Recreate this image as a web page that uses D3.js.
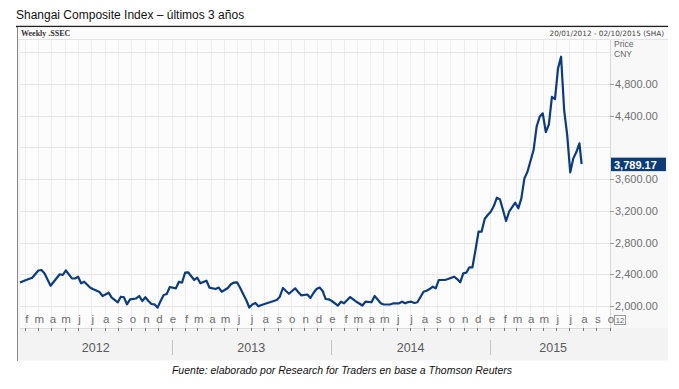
<!DOCTYPE html>
<html>
<head>
<meta charset="utf-8">
<script src="https://cdn.jsdelivr.net/npm/d3@7"></script>
<style>
  body { margin: 0; background: #fff; }
  svg { display: block; font-family: "Liberation Sans", Arial, sans-serif; }
</style>
</head>
<body>
<svg id="chart" width="679" height="389"></svg>
<script>
// cierres semanales (SSEC)
var fechas = [
  "2012-01-20","2012-02-03","2012-02-17","2012-03-02","2012-03-09","2012-03-16","2012-03-30",
  "2012-04-20","2012-04-27","2012-05-04","2012-05-18","2012-05-25","2012-06-01","2012-06-08",
  "2012-06-15","2012-06-29","2012-07-06","2012-07-20","2012-07-27","2012-08-10","2012-08-17",
  "2012-08-31","2012-09-07","2012-09-14","2012-09-21","2012-09-28","2012-10-12","2012-10-19",
  "2012-10-26","2012-11-02","2012-11-09","2012-11-16","2012-11-23","2012-11-30","2012-12-07",
  "2012-12-14","2012-12-21","2012-12-28","2013-01-11","2013-01-18","2013-01-25","2013-02-01",
  "2013-02-08","2013-02-22","2013-03-01","2013-03-08","2013-03-22","2013-03-29","2013-04-12",
  "2013-04-19","2013-04-26","2013-05-10","2013-05-17","2013-05-24","2013-05-31","2013-06-07",
  "2013-06-14","2013-06-21","2013-06-28","2013-07-05","2013-07-12","2013-07-19","2013-07-26",
  "2013-08-09","2013-08-16","2013-08-23","2013-08-30","2013-09-06","2013-09-13","2013-09-20",
  "2013-09-27","2013-10-04","2013-10-11","2013-10-18","2013-10-25","2013-11-08","2013-11-15",
  "2013-11-22","2013-11-29","2013-12-06","2013-12-13","2013-12-20","2013-12-27","2014-01-03",
  "2014-01-17","2014-01-24","2014-01-31","2014-02-14","2014-02-28","2014-03-07","2014-03-14",
  "2014-03-21","2014-04-04","2014-04-11","2014-04-18","2014-04-25","2014-05-02","2014-05-16",
  "2014-05-23","2014-06-06","2014-06-13","2014-06-20","2014-06-27","2014-07-04","2014-07-11",
  "2014-07-18","2014-07-25","2014-08-01","2014-08-08","2014-08-15","2014-08-22","2014-08-29",
  "2014-09-05","2014-09-12","2014-09-19","2014-09-26","2014-10-10","2014-10-17","2014-10-24",
  "2014-10-31","2014-11-07","2014-11-14","2014-11-21","2014-11-28","2014-12-05","2014-12-12",
  "2014-12-19","2014-12-26","2015-01-02","2015-01-09","2015-01-16","2015-01-23","2015-01-30",
  "2015-02-06","2015-02-13","2015-02-27","2015-03-06","2015-03-13","2015-03-20","2015-03-27",
  "2015-04-10","2015-04-17","2015-04-24","2015-05-01","2015-05-08","2015-05-15","2015-05-22",
  "2015-05-29","2015-06-05","2015-06-12","2015-06-19","2015-06-26","2015-07-03","2015-07-10",
  "2015-07-17","2015-07-24","2015-07-29"
];
var cierres = [
  2296,2328,2357,2448,2454,2412,2256,
  2400,2391,2448,2349,2347,2369,2286,
  2306,2231,2211,2177,2126,2168,2105,
  2047,2117,2110,2021,2084,2095,2126,
  2063,2110,2063,2025,2021,1979,2063,
  2139,2151,2240,2223,2306,2294,2420,
  2425,2328,2357,2286,2319,2231,2214,
  2233,2180,2227,2274,2296,2299,2230,
  2151,2076,1981,2019,2038,1996,2013,
  2038,2050,2063,2076,2117,2227,2189,
  2155,2189,2223,2177,2135,2145,2101,
  2164,2214,2233,2189,2088,2084,2063,
  2006,2054,2034,2113,2054,2032,2006,
  2054,2047,2126,2082,2034,2019,2019,
  2032,2034,2054,2034,2050,2054,2038,
  2047,2113,2180,2193,2214,2243,2223,
  2328,2328,2328,2340,2369,2340,2299,
  2412,2420,2488,2488,2706,2937,2937,
  3097,3148,3189,3260,3366,3345,3210,
  3072,3189,3303,3232,3358,3610,3694,
  3967,4263,4387,4430,4194,4289,4639,
  4610,4997,5144,4472,4156,3686,3862,
  3942,4052,3789.17
];
var rango = ["2012-01-20", "2015-10-02"];
var etiquetasPrecio = [2000, 2400, 2800, 3200, 3600, 4400, 4800];
var lineasPrecio = [2000, 2400, 2800, 3200, 3600, 4000, 4400, 4800, 5200];
var meses = ["e","f","m","a","m","j","j","a","s","o","n","d"];

var parse = d3.timeParse("%Y-%m-%d");
var fmt = d3.format(",.2f");
var data = fechas.map(function(f, i){ return {fecha: parse(f), cierre: cierres[i]}; });
var ultimo = data[data.length - 1];

var svg = d3.select("#chart");
var plot = {left: 20, right: 610, top: 40, bottom: 328};

var x = d3.scaleTime().domain([parse(rango[0]), parse(rango[1])]).range([plot.left, plot.right]);
var y = d3.scaleLinear().domain([2000, 4800]).range([306, 84]);

// titulo
svg.append("text").attr("x", 16).attr("y", 19)
  .attr("font-size", 12).attr("fill", "#111")
  .text("Shangai Composite Index \u2013 \u00faltimos 3 a\u00f1os");
svg.append("line").attr("x1", 16).attr("x2", 668).attr("y1", 26.5).attr("y2", 26.5)
  .attr("stroke", "#222").attr("stroke-width", 1.5);

// panel
svg.append("rect").attr("x", 17).attr("y", 27.5).attr("width", 651).attr("height", 333)
  .attr("fill", "#f3f3f3");
svg.append("rect").attr("x", 17).attr("y", 27.5).attr("width", 651).attr("height", 12.5)
  .attr("fill", "#fbfbfb");
svg.append("rect").attr("x", 610).attr("y", 40).attr("width", 58).attr("height", 288)
  .attr("fill", "#f8f8f8");
svg.append("rect").attr("x", plot.left).attr("y", plot.top)
  .attr("width", plot.right - plot.left).attr("height", plot.bottom - plot.top)
  .attr("fill", "#fcfcfc");
svg.append("line").attr("x1", 17.5).attr("x2", 17.5).attr("y1", 27).attr("y2", 361)
  .attr("stroke", "#8a8a8a");
svg.append("line").attr("x1", 18).attr("x2", 668).attr("y1", 39.5).attr("y2", 39.5)
  .attr("stroke", "#e4e4e4");

svg.append("text").attr("x", 21).attr("y", 36)
  .attr("font-family", "'Liberation Serif', serif").attr("font-weight", "bold")
  .attr("font-size", 8).attr("fill", "#333").text("Weekly .SSEC");
svg.append("text").attr("x", 664).attr("y", 36).attr("text-anchor", "end")
  .attr("font-family", "'DejaVu Sans', sans-serif").attr("font-size", 7.3)
  .attr("fill", "#444").text("20/01/2012 - 02/10/2015 (SHA)");

// rejilla
var mesesTicks = d3.timeMonth.range(x.domain()[0], x.domain()[1]);
svg.append("g").selectAll("line").data(mesesTicks).join("line")
  .attr("x1", function(d){ return Math.round(x(d)) + 0.5; })
  .attr("x2", function(d){ return Math.round(x(d)) + 0.5; })
  .attr("y1", plot.top).attr("y2", plot.bottom)
  .attr("stroke", "#ececec");
svg.append("g").selectAll("line").data(lineasPrecio).join("line")
  .attr("x1", plot.left).attr("x2", plot.right)
  .attr("y1", function(d){ return Math.round(y(d)) + 0.5; })
  .attr("y2", function(d){ return Math.round(y(d)) + 0.5; })
  .attr("stroke", "#e6e6e6");
svg.append("line").attr("x1", plot.right + 0.5).attr("x2", plot.right + 0.5)
  .attr("y1", plot.top).attr("y2", plot.bottom).attr("stroke", "#d8d8d8");
svg.append("line").attr("x1", plot.left).attr("x2", plot.right)
  .attr("y1", plot.bottom + 0.5).attr("y2", plot.bottom + 0.5).attr("stroke", "#dcdcdc");

// eje x: meses
var ejeX = svg.append("g");
ejeX.selectAll("line").data(mesesTicks).join("line")
  .attr("x1", function(d){ return Math.round(x(d)) + 0.5; })
  .attr("x2", function(d){ return Math.round(x(d)) + 0.5; })
  .attr("y1", plot.bottom).attr("y2", plot.bottom + 3)
  .attr("stroke", "#777");
ejeX.selectAll("text").data(mesesTicks).join("text")
  .attr("x", function(d){ return x(d) + 1.5; })
  .attr("y", 323).attr("text-anchor", "middle")
  .attr("font-size", 11.5).attr("fill", "#6e6e6e")
  .text(function(d){ return meses[d.getMonth()]; });

// eje x: años
var cortes = d3.timeYear.range(x.domain()[0], x.domain()[1]);
ejeX.append("g").selectAll("line").data(cortes).join("line")
  .attr("x1", function(d){ return Math.round(x(d)) + 0.5; })
  .attr("x2", function(d){ return Math.round(x(d)) + 0.5; })
  .attr("y1", 340).attr("y2", 355).attr("stroke", "#c4c4c4");
var anios = [2012, 2013, 2014, 2015];
ejeX.append("g").selectAll("text").data(anios).join("text")
  .attr("x", function(a){
    var a0 = Math.max(x(new Date(a, 0, 1)), plot.left);
    var a1 = Math.min(x(new Date(a + 1, 0, 1)), plot.right);
    return (a0 + a1) / 2 + (a === 2015 ? 3 : 0);
  })
  .attr("y", 352).attr("text-anchor", "middle")
  .attr("font-size", 12.5).attr("fill", "#5a5a5a")
  .text(function(a){ return a; });

// eje y a la derecha
var ejeY = svg.append("g");
ejeY.selectAll("line").data(etiquetasPrecio).join("line")
  .attr("x1", plot.right).attr("x2", plot.right + 4)
  .attr("y1", function(d){ return Math.round(y(d)) + 0.5; })
  .attr("y2", function(d){ return Math.round(y(d)) + 0.5; })
  .attr("stroke", "#999");
ejeY.selectAll("text").data(etiquetasPrecio).join("text")
  .attr("x", 615).attr("y", function(d){ return y(d) + 4; })
  .attr("font-size", 11).attr("fill", "#707070")
  .text(function(d){ return fmt(d); });
svg.append("text").attr("x", 614).attr("y", 47).attr("font-size", 8.5).attr("fill", "#666").text("Price");
svg.append("text").attr("x", 614).attr("y", 57).attr("font-size", 8.5).attr("fill", "#666").text("CNY");

// linea de precios
svg.append("path").datum(data)
  .attr("fill", "none").attr("stroke", "#0b3b82").attr("stroke-width", 2.2)
  .attr("stroke-linejoin", "round")
  .attr("d", d3.line().x(function(d){ return x(d.fecha); }).y(function(d){ return y(d.cierre); }));

// ultimo valor
var yu = y(ultimo.cierre);
svg.append("rect").attr("x", 611).attr("y", yu - 6.5).attr("width", 55).attr("height", 13.5)
  .attr("fill", "#0b3b78");
svg.append("text").attr("x", 614).attr("y", yu + 4.5)
  .attr("font-size", 11).attr("font-weight", "bold").attr("fill", "#fff")
  .text(fmt(ultimo.cierre));

// caja "12"
svg.append("rect").attr("x", 614.5).attr("y", 315.5).attr("width", 11).attr("height", 9)
  .attr("fill", "#fafafa").attr("stroke", "#9a9a9a");
svg.append("text").attr("x", 620).attr("y", 323).attr("text-anchor", "middle")
  .attr("font-size", 7.5).attr("fill", "#666").text("12");

// fuente
svg.append("text").attr("x", 342).attr("y", 374).attr("text-anchor", "middle")
  .attr("font-size", 10.5).attr("font-style", "italic").attr("fill", "#111")
  .text("Fuente: elaborado por Research for Traders en base a Thomson Reuters");
</script>
</body>
</html>
